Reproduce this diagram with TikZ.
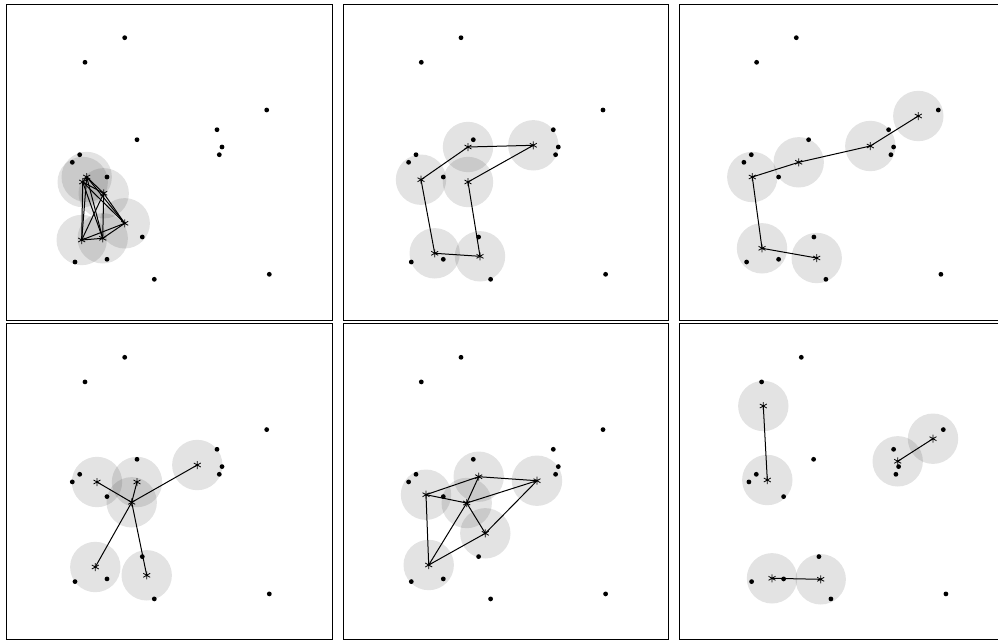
\documentclass[tikz,border=0pt]{standalone}
\begin{document}
\begin{tikzpicture}[x=1pt,y=-1pt,
  frame/.style={draw=black,line width=1pt},
  dot/.style={circle,fill=black,inner sep=0pt,minimum size=4.8pt},
  cluster/.style={fill=black,fill opacity=0.11},
  edge/.style={draw=black,line width=1pt},
  ast/.pic={\draw[line width=0.8pt] (90:4pt)--(270:4pt) (30:4pt)--(210:4pt) (150:4pt)--(330:4pt);}
]
\useasboundingbox (0,0) rectangle (998,640);
\clip (0,0) rectangle (998,640);

% frames
\foreach \x in {6.5,343,679}
  \foreach \y in {4.5,323.5}
    \draw[frame] (\x,\y) rectangle ++(325.5,315.5);

% cluster centres
\coordinate (p1a) at (86.7,177);  \coordinate (p1b) at (82.7,182);
\coordinate (p1c) at (103.7,193.3); \coordinate (p1d) at (124.7,223.3);
\coordinate (p1e) at (102.7,238.3); \coordinate (p1f) at (81.7,240);

\coordinate (p2a) at (468,147);   \coordinate (p2b) at (533.3,145.3);
\coordinate (p2c) at (421,179.7); \coordinate (p2d) at (468,182);
\coordinate (p2e) at (434.7,253.3); \coordinate (p2f) at (480,256.3);

\coordinate (p3a) at (918.3,116); \coordinate (p3b) at (870.3,146);
\coordinate (p3c) at (798.7,162.3); \coordinate (p3d) at (752.3,177);
\coordinate (p3e) at (762,248.3); \coordinate (p3f) at (816.7,258);

\coordinate (p4a) at (97,482);    \coordinate (p4b) at (137,482);
\coordinate (p4c) at (197.3,465); \coordinate (p4d) at (131.7,502.3);
\coordinate (p4e) at (95.3,567);  \coordinate (p4f) at (146.7,575.3);

\coordinate (p5a) at (478.7,476.7); \coordinate (p5b) at (537,480.7);
\coordinate (p5c) at (426,494.7); \coordinate (p5d) at (466.7,503);
\coordinate (p5e) at (485.3,533.3); \coordinate (p5f) at (428.7,565);

\coordinate (p6a) at (763.3,406); \coordinate (p6b) at (767.3,480);
\coordinate (p6c) at (897.7,461.3); \coordinate (p6d) at (933,438.7);
\coordinate (p6e) at (772,578.3); \coordinate (p6f) at (820.7,579.3);

% shaded discs
\foreach \p in {1,...,6}
  \foreach \s in {a,b,c,d,e,f}
    \fill[cluster] (p\p\s) circle (25.2pt);

% edges
\foreach \u/\v in {a/b,a/c,a/d,a/e,a/f,b/c,b/d,b/e,b/f,c/d,c/e,c/f,d/e,d/f,e/f}
  \draw[edge] (p1\u) -- (p1\v);
\foreach \u/\v in {c/a,a/b,b/d,d/f,f/e,e/c}
  \draw[edge] (p2\u) -- (p2\v);
\foreach \u/\v in {a/b,b/c,c/d,d/e,e/f}
  \draw[edge] (p3\u) -- (p3\v);
\foreach \u/\v in {d/a,d/b,d/c,d/e,d/f}
  \draw[edge] (p4\u) -- (p4\v);
\foreach \u/\v in {c/a,a/b,c/d,d/b,a/d,d/e,b/e,e/f,f/d,c/f}
  \draw[edge] (p5\u) -- (p5\v);
\foreach \u/\v in {a/b,c/d,e/f}
  \draw[edge] (p6\u) -- (p6\v);

% data points
\foreach \ox/\oy/\p in {0/0/1,336.3/0/2,671.6/0/3,0/319.6/4,336.3/319.6/5,676.6/319.6/6}{
  \foreach \dx/\dy [count=\k] in {124.7/37.7,85/62.3,266.7/110,217/129.7,222/147,219.3/154.7,137/139.7,79.7/154.7,72.3/162.3,107/177,142.3/237,75/262,107/259.3,154.3/279.3,269.3/274.3}
    \node[dot] (d\p-\k) at (\dx+\ox,\dy+\oy) {};
}

% centre marks
\foreach \p in {1,...,6}
  \foreach \s in {a,b,c,d,e,f}
    \pic at (p\p\s) {ast};
\end{tikzpicture}
\end{document}
